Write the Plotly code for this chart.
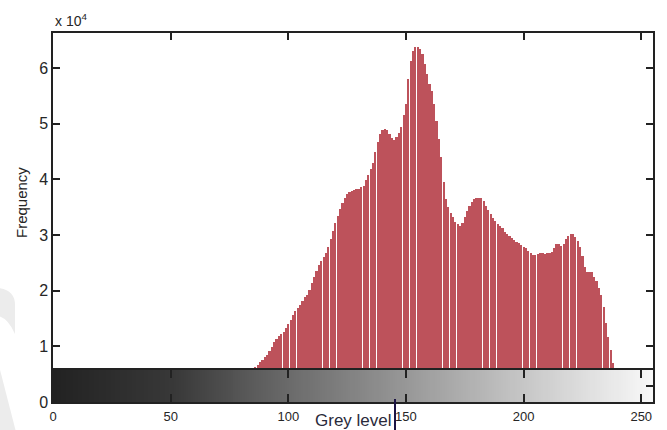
import plotly.graph_objects as go

# Grey levels that hold pixels, and their pixel counts (histogram of an 8-bit image)
grey_levels = list(range(60, 246))
frequency = [
    5, 10, 20, 35, 60, 100, 150, 220, 310, 420,                         # 60-69
    550, 710, 900, 1120, 1370, 1650, 1960, 2300, 2680, 3080,            # 70-79
    3500, 3950, 4400, 4850, 5300, 5700, 6200, 6600, 7100, 7600,         # 80-89
    8000, 8500, 9100, 9800, 10700, 11300, 11800, 12200, 12600, 13300,   # 90-99
    14000, 14800, 15600, 16300, 16900, 17500, 18200, 18900, 19300, 20200,   # 100-109
    21400, 22500, 23500, 24600, 25400, 26100, 26800, 27800, 29200, 30800,   # 110-119
    32200, 33400, 34600, 35700, 36600, 37300, 37800, 37900, 38100, 38200,   # 120-129
    38300, 38600, 38900, 39800, 40800, 41800, 43000, 45000, 46800, 48200,   # 130-139
    48800, 49000, 48900, 48200, 47500, 47100, 47600, 48300, 49400, 51500,   # 140-149
    53500, 58000, 61200, 63000, 63700, 63800, 63500, 62600, 60800, 59000,   # 150-159
    57200, 55800, 53500, 50500, 47200, 44000, 39500, 36500, 35000, 34000,   # 160-169
    33200, 32400, 31900, 31700, 32200, 33300, 34300, 35200, 36000, 36400,   # 170-179
    36600, 36700, 36600, 36100, 35300, 34500, 33800, 33100, 32600, 32000,   # 180-189
    31700, 31200, 30600, 30200, 29800, 29400, 29100, 28800, 28500, 28200,   # 190-199
    27900, 27600, 27200, 26800, 26500, 26400, 26600, 26700, 26700, 26600,   # 200-209
    26700, 26800, 27000, 27600, 28400, 28300, 28100, 28400, 29300, 29800,   # 210-219
    30100, 30100, 29700, 28900, 27800, 26300, 24200, 23400, 23400, 23300,   # 220-229
    22500, 21800, 20500, 19200, 17000, 14200, 11600, 9300, 7000, 5200,      # 230-239
    3400, 1800, 800, 300, 100, 30,                                          # 240-245
]

# Grey ramp shown under the histogram
grey_ramp = list(range(256))

x_ticks = [0, 50, 100, 150, 200, 250]
y_ticks = [0, 10000, 20000, 30000, 40000, 50000, 60000]
y_tick_text = ["0", "1", "2", "3", "4", "5", "6"]

FONT = "Liberation Sans, Arial, sans-serif"
AXIS = "#222222"
BAR = "#bd525b"
TEXT = "#262626"

# plot area in page pixels: left 53, right 653, top 33, bottom 402
def px_x(px):
    return (px - 53) / 600


def px_y(py):
    return (402 - py) / 369


fig = go.Figure()

fig.add_trace(go.Bar(
    x=grey_levels, y=frequency, width=0.925,
    marker=dict(color=BAR, line=dict(width=0)),
    xaxis="x", yaxis="y", hoverinfo="skip",
))

fig.add_trace(go.Heatmap(
    x=grey_ramp, y=[0.5], z=[grey_ramp],
    colorscale=[[0.0, "#222222"], [0.2, "#383838"], [0.4, "#6c6c6c"],
                [0.6, "#9a9a9a"], [0.8, "#cacaca"], [1.0, "#f8f8f8"]],
    zmin=0, zmax=255, showscale=False, hoverinfo="skip",
    xaxis="x2", yaxis="y2",
))

axis_common = dict(showline=True, linecolor=AXIS, linewidth=1.5, mirror="ticks",
                   ticks="inside", tickcolor=AXIS, tickwidth=1.5,
                   showgrid=False, zeroline=False, fixedrange=True,
                   automargin=False)

fig.update_layout(
    width=667, height=430,
    margin=dict(l=53, r=14, t=33, b=28),
    paper_bgcolor="white", plot_bgcolor="white",
    bargap=0, showlegend=False,
    font=dict(family=FONT, color=TEXT),
    xaxis=dict(domain=[0, 1], range=[0, 255], tickvals=x_ticks,
               showticklabels=False, ticklen=7, anchor="y", **axis_common),
    yaxis=dict(domain=[0, 1], range=[0, 66300], tickvals=y_ticks,
               ticktext=y_tick_text, ticklen=7, anchor="x",
               tickfont=dict(size=16, color=TEXT), **axis_common),
    xaxis2=dict(domain=[0, 1], range=[0, 255], tickvals=x_ticks,
                ticklen=8, anchor="y2", ticklabelstandoff=2,
                tickfont=dict(size=13, color=TEXT), **axis_common),
    yaxis2=dict(domain=[0, 32 / 369], range=[0, 1], tickvals=[0.5],
                showticklabels=False, ticklen=7, anchor="x2", **axis_common),
)

# exponent label of the frequency axis
fig.add_annotation(text="x 10<sup>4</sup>", xref="paper", yref="paper",
                   x=0, y=1.005, xanchor="left", yanchor="bottom",
                   showarrow=False, font=dict(size=14, color=TEXT))

# axis titles
fig.add_annotation(text="Grey level", xref="paper", yref="paper",
                   x=px_x(353), y=px_y(409), xanchor="center", yanchor="top",
                   showarrow=False, font=dict(size=17, color="#2a2a3a"))
fig.add_annotation(text="Frequency", xref="paper", yref="paper",
                   x=px_x(22), y=px_y(203), xanchor="center", yanchor="middle",
                   textangle=-90, showarrow=False,
                   font=dict(size=15, color=TEXT))

# text caret after the x-axis title
fig.add_shape(type="line", xref="paper", yref="paper",
              x0=px_x(395), x1=px_x(395), y0=px_y(399), y1=px_y(432),
              line=dict(color="#1c1444", width=2))

# pale background marks along the left page edge
fig.add_shape(type="path", xref="paper", yref="paper", layer="below",
              path=(f"M {px_x(-2)},{px_y(288)} "
                    f"Q {px_x(15)},{px_y(290)} {px_x(15)},{px_y(305)} "
                    f"L {px_x(15)},{px_y(334)} "
                    f"Q {px_x(8)},{px_y(318)} {px_x(-2)},{px_y(316)} Z"),
              fillcolor="#ececec", line=dict(width=0))
fig.add_shape(type="path", xref="paper", yref="paper", layer="below",
              path=(f"M {px_x(-2)},{px_y(362)} L {px_x(16)},{px_y(432)} "
                    f"L {px_x(-2)},{px_y(432)} Z"),
              fillcolor="#ececec", line=dict(width=0))

fig.write_html("out.html")
